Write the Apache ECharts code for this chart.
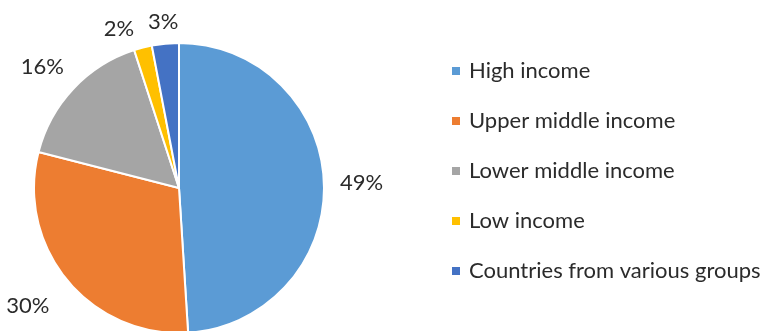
<!DOCTYPE html>
<html>
<head>
<meta charset="utf-8">
<script src="https://cdn.jsdelivr.net/npm/echarts@6/dist/echarts.min.js"></script>
<style>
  html, body { margin: 0; padding: 0; background: #fff; }
  #main { width: 771px; height: 331px; }
</style>
</head>
<body>
<div id="main"></div>
<script>
var groups = ['High income', 'Upper middle income', 'Lower middle income', 'Low income', 'Countries from various groups'];
var shares = [49, 30, 16, 2, 3];
var colors = ['#5B9BD5', '#ED7D31', '#A5A5A5', '#FFC000', '#4472C4'];

// label tweaks so the % texts sit where the original puts them
var lineLen = [4, 40, 32, 19, 22];
var labelDist = [12, -13, -14, 4, -15];

var chart = echarts.init(document.getElementById('main'));
var pieData = groups.map(function (g, i) {
  return {
    name: g,
    value: shares[i],
    label: { distanceToLabelLine: labelDist[i] },
    labelLine: { show: false, length: lineLen[i], length2: 0 }
  };
});

chart.setOption({
  animation: false,
  color: colors,
  backgroundColor: '#fff',
  legend: {
    orient: 'vertical',
    left: 450,
    top: 59,
    padding: 0,
    itemWidth: 10,
    itemHeight: 10,
    itemGap: 26,
    icon: 'rect',
    textStyle: {
      fontFamily: 'Lato',
      fontSize: 22,
      color: '#2b2b2b',
      lineHeight: 24,
      padding: [0, 0, 0, 3]
    },
    data: groups
  },
  series: [{
    type: 'pie',
    center: [179, 188],
    radius: 145,
    startAngle: 90,
    clockwise: true,
    avoidLabelOverlap: false,
    itemStyle: { borderColor: '#fff', borderWidth: 2 },
    label: {
      show: true,
      position: 'outside',
      formatter: '{c}%',
      fontFamily: 'Lato',
      fontSize: 22,
      color: '#2b2b2b'
    },
    emphasis: { disabled: true },
    data: pieData
  }]
});
</script>
</body>
</html>
